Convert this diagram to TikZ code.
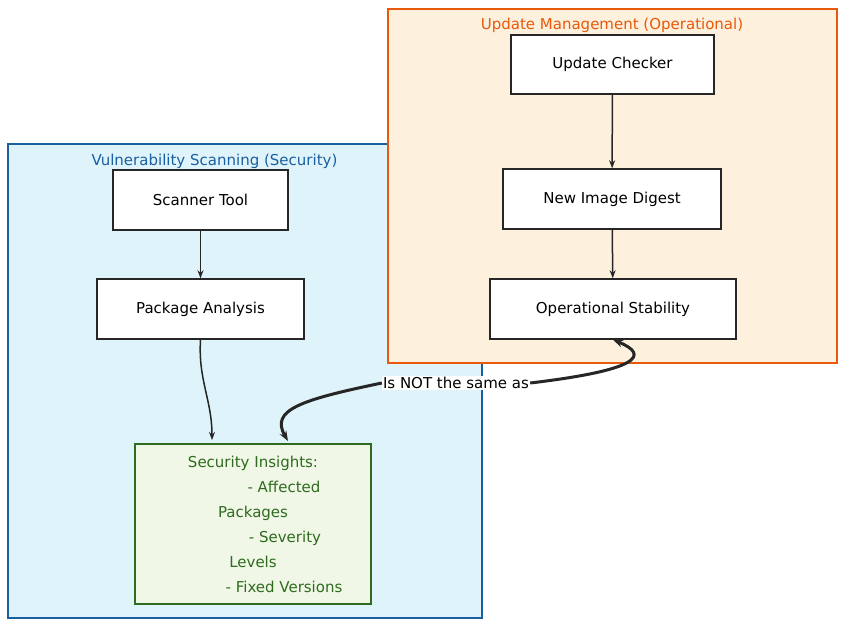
\documentclass[tikz,border=0pt]{standalone}
\usepackage{fontspec}
\setmainfont{DejaVu Sans}
\usetikzlibrary{arrows.meta}
\definecolor{bluefill}{HTML}{DFF3FB}
\definecolor{bluestroke}{HTML}{1A5FA0}
\definecolor{orfill}{HTML}{FDF0DC}
\definecolor{orstroke}{HTML}{E8590C}
\definecolor{grfill}{HTML}{F0F7E6}
\definecolor{grstroke}{HTML}{2F6B1F}
\begin{document}
\begin{tikzpicture}[x=1pt,y=-1pt,
  box/.style={draw=black!85,fill=white,line width=1.5pt,font=\fontsize{15}{25}\selectfont},
  arr/.style={draw=black!85,line width=1.5pt,-{Stealth[length=8pt]}}]
\useasboundingbox (0,0) rectangle (845,627);
\draw[fill=bluefill,draw=bluestroke,line width=1.6pt] (8,144) rectangle (482,618);
\node[text=bluestroke,font=\fontsize{15}{18}\selectfont,anchor=west] (bl) at (88,161) {Vulnerability Scanning (Security)};
\draw[fill=orfill,draw=orstroke,line width=1.6pt] (388,9) rectangle (837,363);
\node[text=orstroke,font=\fontsize{15}{18}\selectfont] (ol) at (612,25) {Update Management (Operational)};
\node[box,minimum width=175pt,minimum height=60pt] (st) at (200.5,200) {Scanner Tool};
\node[box,minimum width=207pt,minimum height=60pt] (pa) at (200.5,309) {Package Analysis};
\node[box,fill=grfill,draw=grstroke,text=grstroke,minimum width=236pt,minimum height=160pt,align=center] (si) at (253,524)
 {Security Insights:\\\hspace*{62pt}- Affected\\Packages\\\hspace*{64pt}- Severity\\Levels\\\hspace*{62pt}- Fixed Versions};
\node[box,minimum width=203pt,minimum height=59pt] (uc) at (612.5,64.5) {Update Checker};
\node[box,minimum width=218pt,minimum height=60pt] (nd) at (612,199) {New Image Digest};
\node[box,minimum width=246pt,minimum height=60pt] (os) at (613,309) {Operational Stability};
\draw[arr] (st) -- (pa);
\draw[arr] (pa.south) .. controls (198,380) and (212,400) .. (212,440);
\draw[arr] (uc) -- (nd);
\draw[arr] (nd) -- (os);
\node[font=\fontsize{15}{18}\selectfont,fill=white,inner sep=1pt] (lb) at (456,383) {Is NOT the same as};
\draw[line width=3pt,draw=black!85,{Stealth[length=10pt]}-] (os.south) .. controls (650,355) and (640,370) .. (lb.east);
\draw[line width=3pt,draw=black!85,-{Stealth[length=10pt]}] (lb.west) .. controls (300,400) and (270,410) .. (288,441);
\end{tikzpicture}
\end{document}
